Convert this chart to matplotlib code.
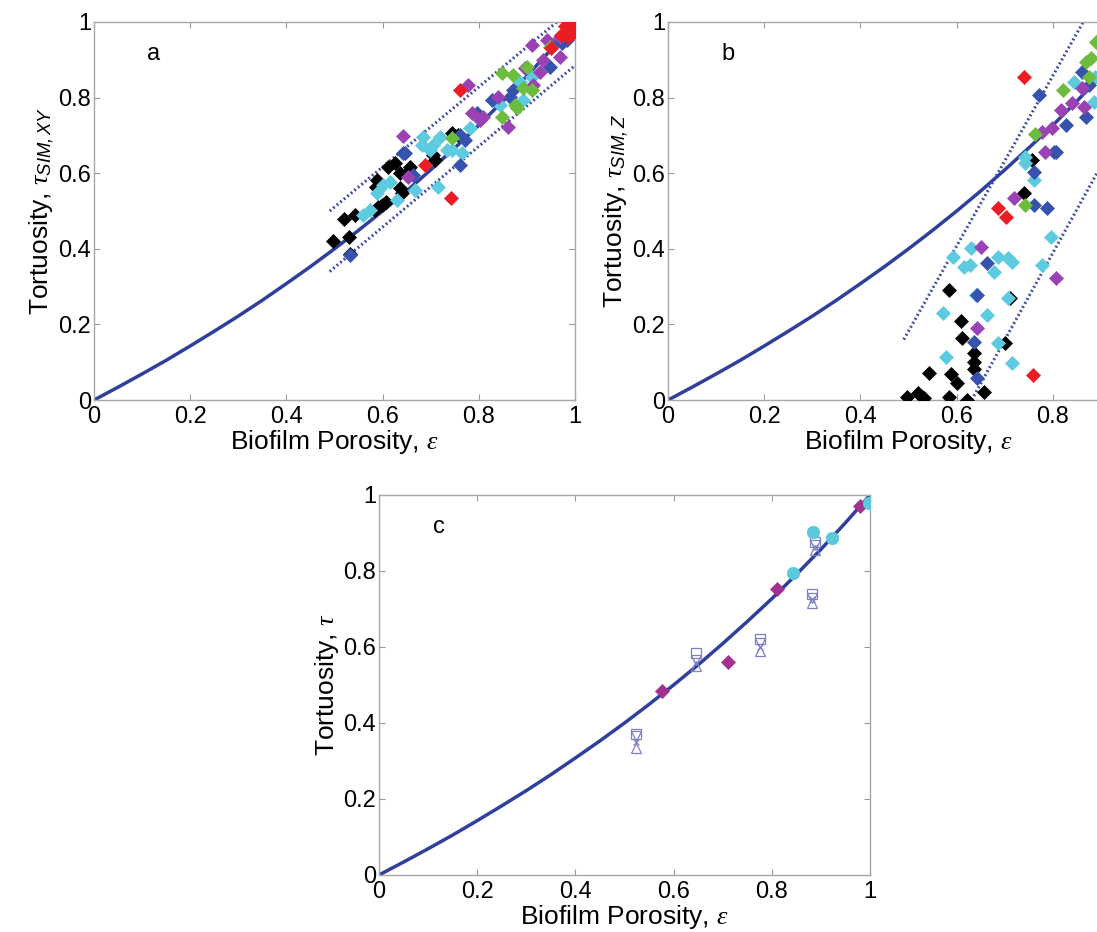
import matplotlib
matplotlib.use("Agg")
import matplotlib.pyplot as plt

plt.rcParams['font.family'] = ['Liberation Sans', 'DejaVu Sans']
plt.rcParams['mathtext.fontset'] = 'custom'
plt.rcParams['mathtext.rm'] = 'Liberation Sans'
plt.rcParams['mathtext.it'] = 'Liberation Serif:italic'
plt.rcParams['mathtext.sf'] = 'Liberation Sans:italic'

# model curve (same in all three panels)
curve_eps = [0, 0.05, 0.1, 0.15, 0.2, 0.25, 0.3, 0.35, 0.4, 0.45, 0.5,
             0.55, 0.6, 0.65, 0.7, 0.75, 0.8, 0.85, 0.9, 0.95, 1.0]
curve_tau = [0, 0.034, 0.069, 0.105, 0.143, 0.182, 0.222, 0.264, 0.308, 0.353, 0.4,
             0.449, 0.5, 0.553, 0.609, 0.667, 0.727, 0.791, 0.857, 0.927, 1.0]

# panel a : tau_SIM,XY
a_black_x = [0.497, 0.53, 0.52, 0.543, 0.532, 0.588, 0.586, 0.59, 0.598, 0.608, 0.611,
             0.626, 0.636, 0.636, 0.64, 0.657, 0.705, 0.709, 0.744, 0.757, 0.584, 0.65]
a_black_y = [0.421, 0.43, 0.48, 0.49, 0.386, 0.582, 0.564, 0.51, 0.516, 0.524, 0.617,
             0.627, 0.60, 0.561, 0.548, 0.617, 0.648, 0.635, 0.706, 0.70, 0.503, 0.60]
a_cyan_x = [0.574, 0.588, 0.615, 0.63, 0.667, 0.684, 0.682, 0.719, 0.705, 0.715, 0.744,
            0.765, 0.782, 0.699, 0.734, 0.844, 0.886, 0.91, 0.892, 0.60, 0.56]
a_cyan_y = [0.503, 0.548, 0.577, 0.529, 0.556, 0.696, 0.675, 0.696, 0.675, 0.564, 0.661,
            0.653, 0.72, 0.661, 0.661, 0.78, 0.841, 0.854, 0.794, 0.57, 0.49]
a_blue_x = [0.643, 0.663, 0.761, 0.771, 0.532, 0.647, 0.796, 0.827, 0.865, 0.871, 0.948,
            0.954, 0.973, 0.983, 0.76]
a_blue_y = [0.653, 0.595, 0.622, 0.688, 0.384, 0.653, 0.759, 0.794, 0.802, 0.82, 0.881,
            0.939, 0.944, 0.952, 0.70]
a_magenta_x = [0.643, 0.778, 0.785, 0.802, 0.809, 0.84, 0.861, 0.896, 0.913, 0.927, 0.934,
               0.91, 0.942, 0.969, 0.969, 0.653]
a_magenta_y = [0.698, 0.833, 0.759, 0.741, 0.749, 0.802, 0.722, 0.878, 0.833, 0.868, 0.899,
               0.939, 0.952, 0.907, 0.96, 0.59]
a_green_x = [0.848, 0.871, 0.892, 0.91, 0.879, 0.848, 0.948, 0.90, 0.744, 0.875]
a_green_y = [0.865, 0.86, 0.825, 0.82, 0.772, 0.749, 0.934, 0.881, 0.693, 0.78]
a_red_x = [0.761, 0.688, 0.742, 0.98, 0.99, 0.995, 0.985, 0.97, 1.0, 0.99, 0.95]
a_red_y = [0.82, 0.622, 0.534, 0.99, 0.985, 0.97, 0.96, 0.965, 1.0, 0.995, 0.93]
a_band_x = [0.49, 1.0]
a_band_up = [0.50, 1.04]
a_band_lo = [0.34, 0.885]

# panel b : tau_SIM,Z
b_black_x = [0.496, 0.519, 0.531, 0.542, 0.585, 0.589, 0.60, 0.585, 0.608, 0.612, 0.622,
             0.635, 0.637, 0.637, 0.656, 0.701, 0.71, 0.739, 0.757, 0.526]
b_black_y = [0.008, 0.018, 0.005, 0.072, 0.008, 0.069, 0.044, 0.291, 0.21, 0.163, 0.0,
             0.124, 0.101, 0.081, 0.02, 0.15, 0.27, 0.547, 0.635, 0.01]
b_cyan_x = [0.571, 0.578, 0.592, 0.616, 0.627, 0.63, 0.641, 0.664, 0.678, 0.685, 0.685,
            0.706, 0.716, 0.716, 0.706, 0.741, 0.743, 0.761, 0.778, 0.797, 0.844, 0.886, 0.888]
b_cyan_y = [0.229, 0.115, 0.379, 0.353, 0.357, 0.402, 0.278, 0.225, 0.339, 0.379, 0.15,
            0.375, 0.366, 0.097, 0.27, 0.644, 0.626, 0.582, 0.357, 0.432, 0.841, 0.789, 0.855]
b_blue_x = [0.772, 0.761, 0.761, 0.788, 0.803, 0.828, 0.861, 0.869, 0.875, 0.664, 0.643,
            0.635, 0.643, 0.806]
b_blue_y = [0.807, 0.604, 0.516, 0.508, 0.657, 0.728, 0.868, 0.749, 0.833, 0.362, 0.278,
            0.153, 0.058, 0.655]
b_magenta_x = [0.651, 0.643, 0.72, 0.778, 0.784, 0.799, 0.817, 0.84, 0.861, 0.865, 0.807]
b_magenta_y = [0.405, 0.19, 0.534, 0.709, 0.657, 0.719, 0.767, 0.785, 0.825, 0.776, 0.322]
b_green_x = [0.741, 0.763, 0.822, 0.869, 0.879, 0.89, 0.875]
b_green_y = [0.516, 0.705, 0.82, 0.895, 0.904, 0.947, 0.855]
b_red_x = [0.739, 0.685, 0.703, 0.759]
b_red_y = [0.855, 0.508, 0.485, 0.066]
b_up_x = [0.49, 0.863]
b_up_y = [0.16, 1.0]
b_lo_x = [0.631, 1.0]
b_lo_y = [0.0, 0.85]

# panel c : measured tortuosity
c_dia_x = [0.576, 0.711, 0.81, 0.98]
c_dia_y = [0.484, 0.561, 0.753, 0.971]
c_circ_x = [0.884, 0.922, 0.843, 0.998]
c_circ_y = [0.903, 0.886, 0.794, 0.978]
c_open_x = [0.523, 0.646, 0.776, 0.882, 0.888]
c_sq_y = [0.37, 0.584, 0.622, 0.74, 0.875]
c_dn_y = [0.365, 0.565, 0.61, 0.73, 0.868]
c_up_y = [0.335, 0.55, 0.59, 0.715, 0.855]
c_oc_y = [0.35, 0.558, 0.60, 0.725, 0.862]

ticks = [0, 0.2, 0.4, 0.6, 0.8, 1]
tick_labels = ['0', '0.2', '0.4', '0.6', '0.8', '1']

LINE = '#2f3f9c'
DOT = '#3a46a8'
COLORS = {'black': '#000000', 'cyan': '#5ccbe0', 'blue': '#3553ad',
          'magenta': '#9a42b4', 'green': '#6cbd3e', 'red': '#ec1c24'}


def style(ax, ylabel, letter, xlabels=tick_labels):
    ax.set_xlim(0, 1)
    ax.set_ylim(0, 1)
    ax.set_xticks(ticks)
    ax.set_yticks(ticks)
    ax.set_xticklabels(xlabels)
    ax.set_yticklabels(tick_labels)
    ax.tick_params(direction='in', length=4, width=0.8, color='#9a9a9a',
                   labelsize=17, top=True, right=True, pad=2)
    ax.tick_params(axis='x', pad=4)
    for s in ax.spines.values():
        s.set_color('#a8a8a8')
        s.set_linewidth(1.0)
    ax.set_xlabel(r'Biofilm Porosity, $\varepsilon$', fontsize=19, labelpad=0)
    ax.set_ylabel(ylabel, fontsize=19, labelpad=2)
    ax.text(0.11, 0.9, letter, fontsize=17, transform=ax.transData)
    ax.plot(curve_eps, curve_tau, color=LINE, lw=2.5, zorder=2)


def diamonds(ax, xs, ys, key):
    ax.plot(xs, ys, 'D', ls='none', color=COLORS[key], ms=7.5, mew=0.5, zorder=3)


fig = plt.figure(figsize=(10.97, 9.32), dpi=100)

ax1 = fig.add_axes([0.0857, 0.5708, 0.4385, 0.4056])
style(ax1, r'Tortuosity, $\tau_{\mathsf{SIM,XY}}$', 'a')
ax1.plot(a_band_x, a_band_up, color=DOT, lw=2.2, ls=(0, (0.6, 0.9)), zorder=2)
ax1.plot(a_band_x, a_band_lo, color=DOT, lw=2.2, ls=(0, (0.6, 0.9)), zorder=2)
diamonds(ax1, a_black_x, a_black_y, 'black')
diamonds(ax1, a_cyan_x, a_cyan_y, 'cyan')
diamonds(ax1, a_blue_x, a_blue_y, 'blue')
diamonds(ax1, a_magenta_x, a_magenta_y, 'magenta')
diamonds(ax1, a_green_x, a_green_y, 'green')
diamonds(ax1, a_red_x, a_red_y, 'red')

# panel b runs past the right edge of the page, as in the source figure
ax2 = fig.add_axes([0.609, 0.5708, 0.4385, 0.4056])
style(ax2, r'Tortuosity, $\tau_{\mathsf{SIM,Z}}$', 'b', tick_labels[:-1] + [''])
ax2.plot(b_up_x, b_up_y, color=DOT, lw=2.2, ls=(0, (0.6, 0.9)), zorder=2)
ax2.plot(b_lo_x, b_lo_y, color=DOT, lw=2.2, ls=(0, (0.6, 0.9)), zorder=2)
diamonds(ax2, b_black_x, b_black_y, 'black')
diamonds(ax2, b_cyan_x, b_cyan_y, 'cyan')
diamonds(ax2, b_blue_x, b_blue_y, 'blue')
diamonds(ax2, b_magenta_x, b_magenta_y, 'magenta')
diamonds(ax2, b_green_x, b_green_y, 'green')
diamonds(ax2, b_red_x, b_red_y, 'red')

ax3 = fig.add_axes([0.3455, 0.0612, 0.4476, 0.4077])
style(ax3, r'Tortuosity, $\tau$', 'c')
OPEN = '#7f7fc8'
ax3.plot(c_open_x, c_sq_y, 's', ls='none', mfc='none', mec=OPEN, ms=7, mew=0.9, zorder=3)
ax3.plot(c_open_x, c_dn_y, 'v', ls='none', mfc='none', mec=OPEN, ms=7, mew=0.9, zorder=3)
ax3.plot(c_open_x, c_up_y, '^', ls='none', mfc='none', mec=OPEN, ms=7, mew=0.9, zorder=3)
ax3.plot(c_open_x, c_oc_y, 'x', ls='none', mec=OPEN, ms=5, mew=0.8, zorder=3)
ax3.plot(c_dia_x, c_dia_y, 'D', ls='none', color='#a2318f', ms=7, mew=0.5, zorder=3)
ax3.plot(c_circ_x, c_circ_y, 'o', ls='none', color='#5cc8dc', ms=9, mew=0.5, zorder=3)

fig.savefig('out.png', dpi=100)
